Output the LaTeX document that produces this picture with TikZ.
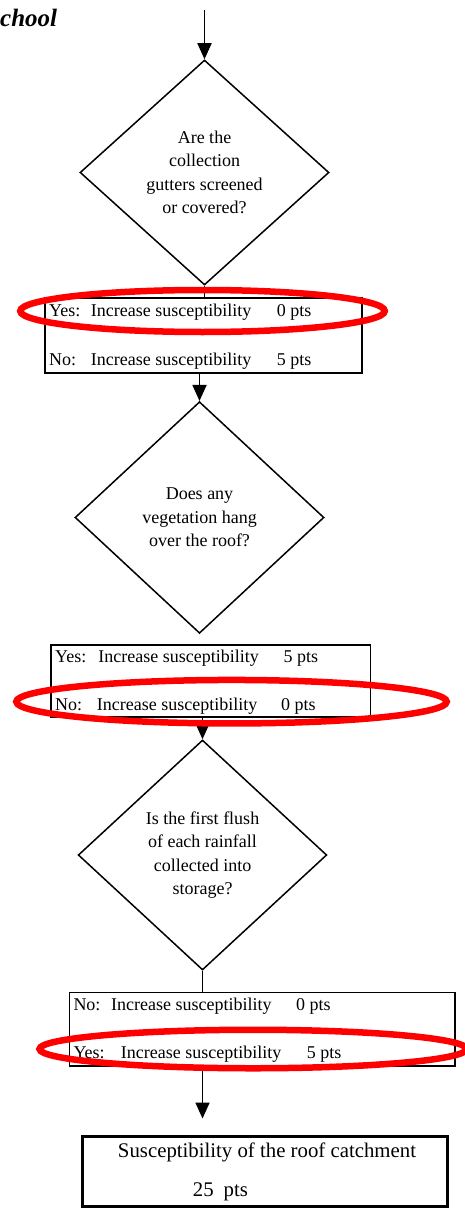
\documentclass[tikz,border=0pt]{standalone}
\usepackage{fontspec}
\setmainfont{Liberation Serif}
\usetikzlibrary{shapes.geometric,arrows.meta}

% one answer line: label, gap to the statement, points
\newcommand{\ansrow}[4]{\makebox[#1pt][l]{#2}\makebox[#3pt][l]{Increase susceptibility}#4}

\begin{document}
\begin{tikzpicture}[x=1pt,y=-1pt,
  question/.style={draw, line width=1.5pt, shape=diamond, inner sep=0pt, align=center,
                   font=\fontsize{18}{23.5}\selectfont},
  answerbox/.style={draw, line width=1.5pt, fill=white, inner sep=0pt},
  resultbox/.style={draw, line width=3pt, fill=white, inner sep=0pt},
  rowtext/.style={anchor=base west, inner sep=0pt, font=\fontsize{18}{22}\selectfont},
  flow/.style={line width=1.8pt, -{Triangle[length=16pt,width=14pt]}},
  stem/.style={line width=1.8pt},
  ring/.style={draw=red, line width=6.5pt, shape=ellipse, inner sep=0pt}]
\useasboundingbox (0,0) rectangle (465,1209);

% heading fragment
\node[anchor=base west, inner sep=0pt, font=\fontsize{25}{30}\selectfont\bfseries\itshape] (head) at (0,27) {chool};

% questions
\node[question, minimum width=249, minimum height=225] (d1) at (204.5,172.5)
  {Are the\\collection\\gutters screened\\or covered?};
\node[question, minimum width=249, minimum height=231.6] (d2) at (199.5,517.5)
  {Does any\\vegetation hang\\over the roof?};
\node[question, minimum width=248.6, minimum height=230] (d3) at (202.5,855)
  {Is the first flush\\of each rainfall\\collected into\\storage?};

% answer boxes
\node[answerbox, minimum width=317, minimum height=75] (b1) at (203.5,335.5) {};
\node[answerbox, minimum width=319.7, minimum height=72] (b2) at (210.85,681) {};
\node[answerbox, minimum width=385.7, minimum height=73.7] (b3) at (262.15,1029.15) {};
\node[resultbox, minimum width=364.6, minimum height=70] (fin) at (265,1171) {};

% answer lines
\node[rowtext] (b1y) at (49,316.7)   {\ansrow{41.7}{Yes:}{186}{0 pts}};
\node[rowtext] (b1n) at (49,365)     {\ansrow{41.7}{No:}{186}{5 pts}};
\node[rowtext] (b2y) at (55,662.3)   {\ansrow{43.3}{Yes:}{185}{5 pts}};
\node[rowtext] (b2n) at (55,710)     {\ansrow{41.7}{No:}{184.3}{0 pts}};
\node[rowtext] (b3n) at (73.3,1010.7){\ansrow{37.7}{No:}{185}{0 pts}};
\node[rowtext] (b3y) at (73.3,1058.3){\ansrow{47.4}{Yes:}{186}{5 pts}};

% result text
\node[anchor=base, inner sep=0pt, font=\fontsize{20.8}{25}\selectfont] (fint) at (267,1157.3)
  {Susceptibility of the roof catchment};
\node[anchor=base west, inner sep=0pt, font=\fontsize{20.8}{25}\selectfont] (finp) at (192.7,1196)
  {25\hspace{10pt}pts};

% connectors
\coordinate (start) at (204.5,10);
\draw[flow] (start) -- (d1.north);
\draw[stem] (d1.south) -- (d1.south |- b1.north);
\draw[flow] (d2.north |- b1.south) -- (d2.north);
\draw[flow] (d3.north |- b2.south) -- (d3.north);
\draw[stem] (d3.south) -- (d3.south |- b3.north);
\draw[flow, shorten >=16pt] (d3.south |- b3.south) -- (d3.south |- fin.north);

% highlighted answers
\node[ring, minimum width=364.5, minimum height=42] (e1) at (202.5,311) {};
\node[ring, minimum width=430.5, minimum height=43.5] (e2) at (231.5,701.7) {};
\node[ring, minimum width=427, minimum height=38.5] (e3) at (253,1049) {};
\end{tikzpicture}
\end{document}
